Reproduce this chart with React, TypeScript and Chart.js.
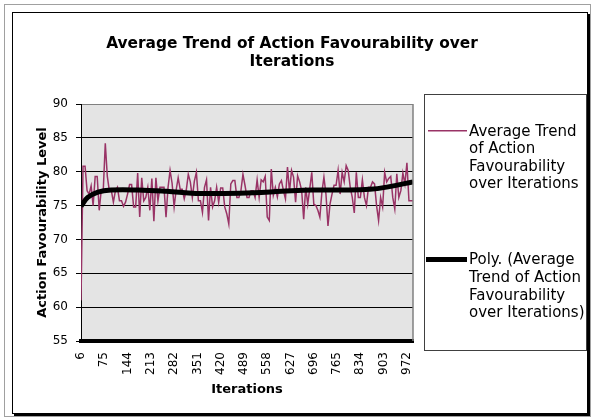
import React, { useEffect, useRef } from "react";
import { Chart, registerables } from "chart.js";

Chart.register(...registerables);

const FONT = "'DejaVu Sans', Verdana, sans-serif";

const titleLines = ["Average Trend of Action Favourability over", "Iterations"];
const xTitle = "Iterations";
const yTitle = "Action Favourability Level";
const seriesLabel = "Average Trend of Action Favourability over Iterations";
const trendLabel = "Poly. (Average Trend of Action Favourability over Iterations)";

const iterations = [
  6, 12, 18, 24, 30, 36, 42, 48, 54, 60, 66, 72, 78, 84, 90, 96, 102, 108, 114, 120,
  126, 132, 138, 144, 150, 156, 162, 168, 174, 180, 186, 192, 198, 204, 210, 216, 222, 228, 234, 240,
  246, 252, 258, 264, 270, 276, 282, 288, 294, 300, 306, 312, 318, 324, 330, 336, 342, 348, 354, 360,
  366, 372, 378, 384, 390, 396, 402, 408, 414, 420, 426, 432, 438, 444, 450, 456, 462, 468, 474, 480,
  486, 492, 498, 504, 510, 516, 522, 528, 534, 540, 546, 552, 558, 564, 570, 576, 582, 588, 594, 600,
  606, 612, 618, 624, 630, 636, 642, 648, 654, 660, 666, 672, 678, 684, 690, 696, 702, 708, 714, 720,
  726, 732, 738, 744, 750, 756, 762, 768, 774, 780, 786, 792, 798, 804, 810, 816, 822, 828, 834, 840,
  846, 852, 858, 864, 870, 876, 882, 888, 894, 900, 906, 912, 918, 924, 930, 936, 942, 948, 954, 960,
  966, 972, 978, 984, 990,
];

const favourability = [
  61, 80.8, 80.8, 77.2, 76.7, 77.9, 75, 79.3, 79.3, 74.3,
  77.3, 77.3, 84.2, 79.3, 77.2, 77.2, 75.5, 77.2, 77.7, 75.7,
  75.7, 74.9, 75.5, 76.7, 78.1, 78.1, 74.8, 74.8, 79.8, 73.3,
  79.1, 75.7, 76.2, 77.7, 74.3, 79, 72.7, 79.1, 75.7, 77.7,
  77.7, 77.7, 73.3, 77.7, 80.2, 78.3, 74.8, 77.3, 79.1, 77.4,
  77.4, 76, 77.3, 79.6, 78.5, 76.2, 78.6, 79.9, 75.7, 75.7,
  74, 77.7, 78.8, 72.8, 77.7, 74.8, 75.7, 77.7, 75.5, 77.6,
  77.6, 74.8, 73.8, 72.3, 78.2, 78.7, 78.7, 76.2, 76.2, 77.2,
  79.6, 78, 76.2, 76.2, 77.2, 77.2,
  76.2, 78.8, 76.2, 78.8, 78.5, 79.3, 73.3, 72.8, 80.4, 76.5,
  77.7, 76.3, 78.2, 78.7, 77.2, 76, 80.7, 77, 80.2, 79.2,
  75.5, 79.4, 78.5, 77.2, 73, 77.7, 75.2, 77.5, 79.9, 75.2,
  75, 74.3, 73.3, 77, 79.2, 76.7, 72, 75.2, 76.7, 78,
  78, 80.2, 76.7, 79.9, 78.5, 80.9, 80.2, 77.7, 76.2, 73.9,
  79.9, 76.2, 76.2, 78.8, 76.2, 75, 77.7, 77.7, 78.5, 78.2,
  75, 72.8, 76.2, 74.8, 79.9, 78.5, 79, 79.3, 76.2, 74.5,
  79.7, 76.2, 77.2, 79.8, 78.2, 81.3, 75.7, 75.7, 75.7,
];

const trendIterations = [6, 26, 56, 95, 175, 260, 347, 430, 518, 600, 690, 780, 862, 920, 990];
const trendValues = [74.9, 76.2, 77.0, 77.3, 77.3, 77.1, 76.8, 76.8, 76.9, 77.1, 77.3, 77.3, 77.4, 77.8, 78.5];

const xTickLabels = [6, 75, 144, 213, 282, 351, 420, 489, 558, 627, 696, 765, 834, 903, 972];
const yMin = 55;
const yMax = 90;
const yStep = 5;

function wrapText(ctx: CanvasRenderingContext2D, text: string, maxW: number): string[] {
  const words = text.split(" ");
  const lines: string[] = [];
  let cur = "";
  for (const w of words) {
    const test = cur ? cur + " " + w : w;
    if (ctx.measureText(test).width > maxW && cur) {
      lines.push(cur);
      cur = w;
    } else {
      cur = test;
    }
  }
  if (cur) lines.push(cur);
  return lines;
}

const decorPlugin = {
  id: "decor",
  beforeDraw(chart: any) {
    const { ctx, chartArea: a } = chart;
    ctx.save();
    ctx.fillStyle = "#ffffff";
    ctx.fillRect(0, 0, chart.width, chart.height);
    ctx.strokeStyle = "#a0a0a0";
    ctx.lineWidth = 1;
    ctx.strokeRect(4.5, 4.5, 586, 412);
    ctx.strokeStyle = "#000000";
    ctx.strokeRect(12.5, 12.5, 575, 401);
    ctx.fillStyle = "#000000";
    ctx.fillRect(588, 14, 2, 402);
    ctx.fillRect(14, 414, 576, 2);
    ctx.fillStyle = "#e4e4e4";
    ctx.fillRect(a.left, a.top, a.right - a.left, a.bottom - a.top);
    ctx.restore();
  },
  afterDraw(chart: any) {
    const { ctx, chartArea: a } = chart;
    ctx.save();
    // right plot border
    ctx.strokeStyle = "#808080";
    ctx.lineWidth = 1.5;
    ctx.beginPath();
    ctx.moveTo(a.right, a.top);
    ctx.lineTo(a.right, a.bottom);
    ctx.stroke();

    // title
    ctx.fillStyle = "#000";
    ctx.font = `bold 15.4px ${FONT}`;
    ctx.textAlign = "center";
    ctx.textBaseline = "middle";
    titleLines.forEach((t, i) => ctx.fillText(t, 292, 44 + i * 18));

    // legend
    ctx.strokeStyle = "#404040";
    ctx.lineWidth = 1;
    ctx.fillStyle = "#ffffff";
    ctx.fillRect(424.5, 94.5, 162, 256);
    ctx.strokeRect(424.5, 94.5, 162, 256);
    ctx.font = `15px ${FONT}`;
    ctx.textAlign = "left";
    ctx.textBaseline = "middle";
    const starts = [131.7, 260.5];
    const lineH = 17.6;
    const sampleX = [428, 426];
    chart.data.datasets
      .slice()
      .sort((d1: any, d2: any) => (d1.legendIndex ?? 0) - (d2.legendIndex ?? 0))
      .forEach((ds: any, i: number) => {
        const y0 = starts[i];
        ctx.strokeStyle = ds.borderColor;
        ctx.lineWidth = ds.borderWidth;
        ctx.beginPath();
        ctx.moveTo(sampleX[i], y0 - 1);
        ctx.lineTo(467, y0 - 1);
        ctx.stroke();
        ctx.fillStyle = "#000";
        const lines = wrapText(ctx, ds.label, 118);
        lines.forEach((l, j) => ctx.fillText(l, 469, y0 + j * lineH));
      });
    ctx.restore();
  },
};

export default function App() {
  const ref = useRef<HTMLCanvasElement | null>(null);
  useEffect(() => {
    if (!ref.current) return;
    const chart = new Chart(ref.current, {
      type: "line",
      data: {
        datasets: [
          {
            label: seriesLabel,
            data: iterations.map((x, i) => ({ x, y: favourability[i] })),
            borderColor: "#993366",
            borderWidth: 1.5,
            pointRadius: 0,
            tension: 0,
            order: 2,
            legendIndex: 0,
          } as any,
          {
            label: trendLabel,
            data: trendIterations.map((x, i) => ({ x, y: trendValues[i] })),
            borderColor: "#000000",
            borderWidth: 5,
            pointRadius: 0,
            tension: 0.4,
            order: 1,
            legendIndex: 1,
          } as any,
        ],
      },
      options: {
        responsive: false,
        animation: false,
        devicePixelRatio: 1,
        layout: { padding: { left: 0, top: 104, right: 180, bottom: 18 } },
        plugins: {
          legend: { display: false },
          title: { display: false },
          tooltip: { enabled: false },
        },
        scales: {
          x: {
            type: "linear",
            min: iterations[0],
            max: iterations[iterations.length - 1],
            afterBuildTicks: (s: any) => {
              s.ticks = xTickLabels.map((v) => ({ value: v }));
            },
            afterFit: (s: any) => {
              s.height = 60;
            },
            ticks: {
              autoSkip: false,
              maxRotation: 90,
              minRotation: 90,
              padding: 6,
              color: "#000",
              font: { family: FONT, size: 12 },
              callback: (v: any) => String(v),
            },
            grid: {
              drawOnChartArea: false,
              drawTicks: true,
              tickLength: 5,
              tickColor: "rgba(0,0,0,0)",
            },
            border: { display: true, color: "#000", width: 4 },
            title: {
              display: true,
              text: xTitle,
              color: "#000",
              font: { family: FONT, size: 13, weight: "bold" },
              padding: { top: 0, bottom: 4 },
            },
          },
          y: {
            min: yMin,
            max: yMax,
            afterFit: (s: any) => {
              s.width = 81;
            },
            ticks: {
              stepSize: yStep,
              padding: 8,
              color: "#000",
              font: { family: FONT, size: 12 },
            },
            grid: {
              color: (c: any) => (c.tick && c.tick.value === yMax ? "#808080" : "#000000"),
              lineWidth: 1,
              tickLength: 5,
              tickColor: "#000",
            },
            border: { display: true, color: "#000", width: 1 },
            title: {
              display: true,
              text: yTitle,
              color: "#000",
              font: { family: FONT, size: 13, weight: "bold" },
              padding: { top: 35, bottom: 0 },
            },
          },
        },
      } as any,
      plugins: [decorPlugin],
    });
    return () => chart.destroy();
  }, []);
  return (
    <div style={{ position: "absolute", left: 0, top: 0, width: 593, height: 419 }}>
      <canvas ref={ref} width={593} height={419} style={{ display: "block", width: 593, height: 419 }} />
    </div>
  );
}
